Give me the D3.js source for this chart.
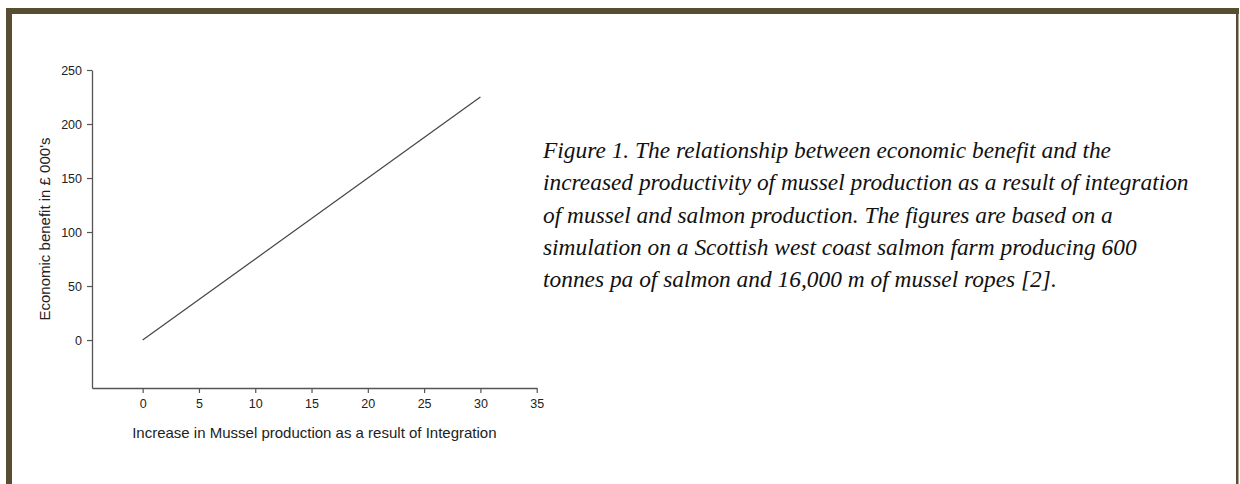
<!DOCTYPE html>
<html>
<head>
<meta charset="utf-8">
<script src="https://cdn.jsdelivr.net/npm/d3@7"></script>
<style>
  html, body { margin: 0; padding: 0; background: #fff; }
  svg { display: block; }
</style>
</head>
<body>
<svg id="chart" width="1240" height="484"></svg>
<script>
// ---- data ----
const xValues = [0, 30];
const yValues = [0, 225];
const xTicks = [0, 5, 10, 15, 20, 25, 30, 35];
const yTicks = [0, 50, 100, 150, 200, 250];
const xTitle = "Increase in Mussel production as a result of Integration";
const yTitle = "Economic benefit in £ 000's";
const captionLines = [
  "Figure 1. The relationship between economic benefit and the",
  "increased productivity of mussel production as a result of integration",
  "of mussel and salmon production. The figures are based on a",
  "simulation on a Scottish west coast salmon farm producing 600",
  "tonnes pa of salmon and 16,000 m of mussel ropes [2]."
];

const svg = d3.select("#chart");
const frame = "#574d33";

// frame border
svg.append("rect").attr("x", 6).attr("y", 8).attr("width", 1233).attr("height", 6).attr("fill", frame);
svg.append("rect").attr("x", 6).attr("y", 8).attr("width", 6).attr("height", 476).attr("fill", frame);
svg.append("rect").attr("x", 1236).attr("y", 8).attr("width", 2.5).attr("height", 476).attr("fill", frame);

// scales
const x = d3.scaleLinear().domain([-4.5, 35]).range([92, 536.7]);
const y = d3.scaleLinear().domain([-44.4, 250]).range([388, 70]);

const axisColor = "#555";
const labelColor = "#222";
const sans = "'Liberation Sans', Arial, sans-serif";

const xAxis = svg.append("g")
  .attr("transform", `translate(0,${y(-44.4)})`)
  .call(d3.axisBottom(x).tickValues(xTicks).tickSize(5).tickPadding(6).tickSizeOuter(0));
const yAxis = svg.append("g")
  .attr("transform", `translate(${x(-4.5)},0)`)
  .call(d3.axisLeft(y).tickValues(yTicks).tickSize(5).tickPadding(5).tickSizeOuter(0));

[xAxis, yAxis].forEach(g => {
  g.select(".domain").attr("stroke", axisColor).attr("stroke-width", 1.3);
  g.selectAll(".tick line").attr("stroke", axisColor).attr("stroke-width", 1.2);
  g.selectAll(".tick text").attr("fill", labelColor)
    .style("font-family", sans).style("font-size", "12.5px");
});

// axis titles
svg.append("text")
  .attr("x", (x(-4.5) + x(35)) / 2)
  .attr("y", 438)
  .attr("text-anchor", "middle")
  .attr("fill", labelColor)
  .style("font-family", sans)
  .style("font-size", "15px")
  .text(xTitle);

svg.append("text")
  .attr("transform", `translate(50,${(y(250) + y(-44.4)) / 2}) rotate(-90)`)
  .attr("text-anchor", "middle")
  .attr("fill", labelColor)
  .style("font-family", sans)
  .style("font-size", "15px")
  .text(yTitle);

// line
const line = d3.line().x(d => x(d[0])).y(d => y(d[1]));
svg.append("path")
  .datum(xValues.map((v, i) => [v, yValues[i]]))
  .attr("d", line)
  .attr("fill", "none")
  .attr("stroke", "#444")
  .attr("stroke-width", 1.2);

// caption
const cap = svg.append("text")
  .attr("fill", "#111")
  .style("font-family", "'Liberation Serif', 'Times New Roman', serif")
  .style("font-style", "italic")
  .style("font-size", "23.4px");
captionLines.forEach((t, i) => {
  cap.append("tspan").attr("x", 543).attr("y", 158 + i * 32.3).text(t);
});
</script>
</body>
</html>
